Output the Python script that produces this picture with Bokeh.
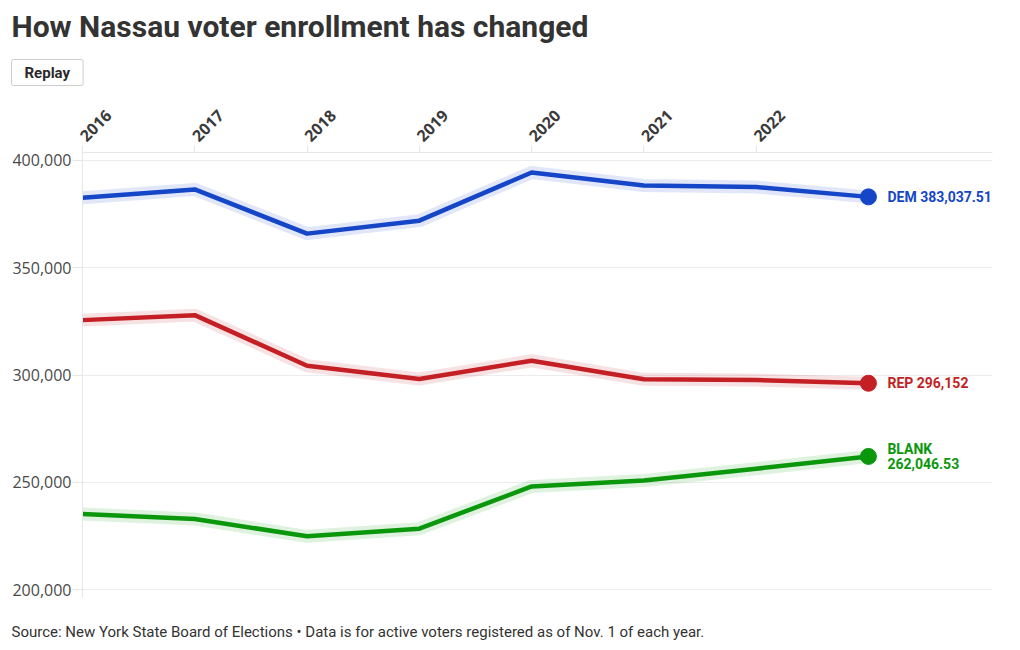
import math
from bokeh.plotting import figure
from bokeh.models import (LabelSet, ColumnDataSource, FixedTicker,
                          NumeralTickFormatter, Range1d, Title)
from bokeh.embed import file_html
from bokeh.resources import INLINE
from bokeh.core.properties import value

# ---------------- data ----------------
years = [2016, 2017, 2018, 2019, 2020, 2021, 2022, 2023]
year_ticks = [2016, 2017, 2018, 2019, 2020, 2021, 2022]
dem = [382650, 386510, 365900, 371950, 394420, 388370, 387600, 383037.51]
rep = [325580, 327910, 304330, 298140, 306650, 298000, 297670, 296152]
blank = [235210, 232880, 224790, 228370, 248050, 250850, 256300, 262046.53]
y_ticks = [200000, 250000, 300000, 350000, 400000]
parties = ["DEM", "REP", "BLANK"]
series = [dem, rep, blank]
colors = ["#1546c8", "#c31f24", "#0b970b"]

title_text = "How Nassau voter enrollment has changed"
button_text = "Replay"
source_text = ("Source: New York State Board of Elections \u2022 Data is for active voters "
               "registered as of Nov. 1 of each year.")

# ---------------- figure ----------------
p = figure(width=1004, height=642, output_backend="svg", toolbar_location=None,
           title=None,
           x_range=Range1d(2016, 2024.105), y_range=Range1d(196280, 403720),
           x_axis_location="above",
           min_border_left=82, min_border_right=12,
           min_border_top=0, min_border_bottom=0)
p.outline_line_color = None
p.background_fill_color = "white"
p.border_fill_color = "white"

# x axis (top)
xa = p.xaxis[0]
xa.ticker = FixedTicker(ticks=year_ticks)
xa.major_label_orientation = math.pi / 4
xa.major_label_text_font = "Open Sans"
xa.major_label_text_font_style = "bold"
xa.major_label_text_font_size = "16px"
xa.major_label_text_color = "#3a3a3a"
xa.axis_line_color = "#e6e6e6"
xa.major_tick_line_color = "#e6e6e6"
xa.major_tick_in = 0
xa.major_tick_out = 7
xa.minor_tick_line_color = None
xa.major_label_standoff = 7

# y axis
ya = p.yaxis[0]
ya.ticker = FixedTicker(ticks=y_ticks)
ya.formatter = NumeralTickFormatter(format="0,0")
ya.major_label_text_font = "Open Sans"
ya.major_label_text_font_size = "16px"
ya.major_label_text_color = "#4a4a4a"
ya.axis_line_color = "#e6e6e6"
ya.major_tick_line_color = "#e6e6e6"
ya.major_tick_in = 0
ya.major_tick_out = 10
ya.minor_tick_line_color = None
ya.major_label_standoff = 1

p.xgrid.grid_line_color = None
p.ygrid.ticker = FixedTicker(ticks=y_ticks)
p.ygrid.grid_line_color = "#ececec"

# lines
for vals, c in zip(series, colors):
    p.line(years, vals, line_color=c, line_alpha=0.13, line_width=13,
           line_join="round", line_cap="round")
for vals, c in zip(series, colors):
    p.line(years, vals, line_color=c, line_width=4.5, line_join="round")
    p.scatter(x=[years[-1]], y=[vals[-1]], size=16, color=c)


def fmt(v):
    if float(v).is_integer():
        return f"{int(v):,}"
    return f"{v:,.2f}"


label_texts = []
for name, vals in zip(parties, series):
    num = fmt(vals[-1])
    sep = "\n" if len(name) + 1 + len(num) > 15 else " "
    label_texts.append(f"{name}{sep}{num}")

src = ColumnDataSource(dict(x=[years[-1]] * len(parties),
                            y=[s[-1] for s in series],
                            text=label_texts, color=colors))
p.add_layout(LabelSet(x="x", y="y", text="text", source=src, x_offset=19,
                      text_color="color", text_font=value("Roboto"),
                      text_font_style="bold", text_font_size="14px",
                      text_baseline="middle", text_align="left",
                      text_line_height=0.95))

# ---------------- titles (side panels) ----------------
spacer_top = Title(text=" ", text_font_size="1px", standoff=5)
p.add_layout(spacer_top, "above")

button = Title(text=button_text, align="left", offset=-71, standoff=16,
               text_font="Roboto", text_font_style="bold",
               text_font_size="15px", text_color="#2a2a2a",
               background_fill_color="white",
               border_line_color="#cccccc", border_line_width=1,
               padding=(13, 4), border_radius=2)
p.add_layout(button, "above")

main_title = Title(text=title_text, align="left", offset=-71, standoff=8,
                   text_font="Roboto", text_font_style="bold",
                   text_font_size="30px", text_color="#333333",
                   padding=(0, 2))
p.add_layout(main_title, "above")

spacer_bottom = Title(text=" ", text_font_size="1px", standoff=18)
p.add_layout(spacer_bottom, "below")

source = Title(text=source_text, align="left", offset=-71, standoff=4,
               text_font="Roboto", text_font_style="normal",
               text_font_size="15px", text_color="#333333")
p.add_layout(source, "below")

open("out.html", "w").write(file_html(p, INLINE))
